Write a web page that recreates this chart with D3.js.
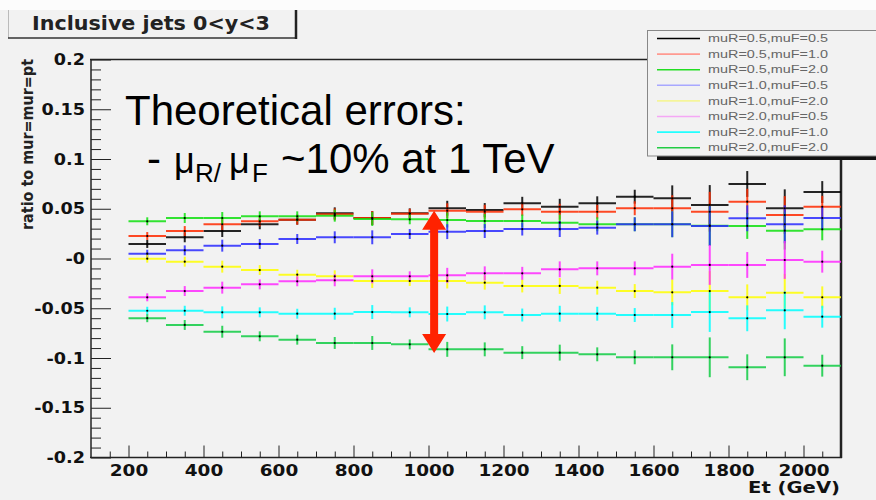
<!DOCTYPE html>
<html><head><meta charset="utf-8">
<script src="https://cdn.jsdelivr.net/npm/d3@7/dist/d3.min.js"></script>
<style>body{margin:0;background:#f2f2f2;} svg{display:block}</style>
</head><body>
<svg id="c" width="876" height="500"></svg>
<script>
// ---------------- data ----------------
const binCenters = [250,350,450,550,650,750,850,950,1050,1150,1250,1350,1450,1550,1650,1750,1850,1950,2050];
const binHalfWidth = 50;
const xTickValues = [200,400,600,800,1000,1200,1400,1600,1800,2000];
const xTickLabels = ["200","400","600","800","1000","1200","1400","1600","1800","2000"];
const yTickValues = [-0.2,-0.15,-0.1,-0.05,0,0.05,0.1,0.15,0.2];
const yTickLabels = ["-0.2","-0.15","-0.1","-0.05","-0","0.05","0.1","0.15","0.2"];
const seriesNames = ["muR=0.5,muF=0.5","muR=0.5,muF=1.0","muR=0.5,muF=2.0","muR=1.0,muF=0.5",
                     "muR=1.0,muF=2.0","muR=2.0,muF=0.5","muR=2.0,muF=1.0","muR=2.0,muF=2.0"];
const r05_05 = [0.0146,0.0213,0.0276,0.0344,0.0390,0.0454,0.0407,0.0454,0.0505,0.0487,0.0555,0.0520,0.0555,0.0621,0.0605,0.0538,0.0749,0.0505,0.0668];
const r05_10 = [0.0226,0.0276,0.0344,0.0374,0.0390,0.0444,0.0407,0.0450,0.0480,0.0470,0.0494,0.0470,0.0470,0.0505,0.0505,0.0470,0.0571,0.0437,0.0520];
const r05_20 = [0.0374,0.0407,0.0407,0.0424,0.0424,0.0430,0.0397,0.0394,0.0387,0.0377,0.0377,0.0360,0.0344,0.0344,0.0344,0.0330,0.0327,0.0280,0.0293];
const r10_05 = [0.0048,0.0082,0.0129,0.0146,0.0196,0.0213,0.0213,0.0246,0.0270,0.0276,0.0296,0.0296,0.0310,0.0344,0.0344,0.0327,0.0404,0.0344,0.0407];
const r10_20 = [-0.0002,-0.0032,-0.0082,-0.0116,-0.0163,-0.0179,-0.0226,-0.0226,-0.0226,-0.0243,-0.0276,-0.0276,-0.0293,-0.0327,-0.0340,-0.0327,-0.0390,-0.0344,-0.0390];
const r20_05 = [-0.0390,-0.0327,-0.0293,-0.0260,-0.0229,-0.0219,-0.0179,-0.0179,-0.0169,-0.0149,-0.0149,-0.0109,-0.0099,-0.0099,-0.0082,-0.0065,-0.0065,-0.0015,-0.0032];
const r20_10 = [-0.0525,-0.0525,-0.0541,-0.0541,-0.0555,-0.0555,-0.0538,-0.0541,-0.0558,-0.0541,-0.0568,-0.0555,-0.0555,-0.0568,-0.0568,-0.0538,-0.0601,-0.0521,-0.0585];
const r20_20 = [-0.0600,-0.0668,-0.0736,-0.0782,-0.0816,-0.0849,-0.0849,-0.0863,-0.0913,-0.0913,-0.0946,-0.0946,-0.0963,-0.0993,-0.0993,-0.0993,-0.1093,-0.0993,-0.1077];
const binErrors = [0.004,0.005,0.006,0.005,0.005,0.006,0.007,0.005,0.0075,0.007,0.0065,0.008,0.007,0.007,0.013,0.020,0.013,0.019,0.011];
const seriesValues = [r05_05,r05_10,r05_20,r10_05,r10_20,r20_05,r20_10,r20_20];

// ---------------- styles ----------------
const colors = ["#000000","#ff2a00","#11e011","#2a2aff","#ffff00","#ff2aff","#00ffff","#11cc44"];
const legendColors = ["#000000","#ff9a90","#22dd22","#a8a8ff","#f5f59a","#f5a8f5","#22ffff","#22cc44"];

const svg = d3.select('#c');
svg.append('rect').attr('width',876).attr('height',500).attr('fill','#f2f2f2');
svg.append('rect').attr('width',876).attr('height',10).attr('fill','#fcfcfc');

const x = d3.scaleLinear().domain([100,2100]).range([91,841]);
const y = d3.scaleLinear().domain([-0.2,0.2]).range([457.5,59.5]);

function stretch(sel, k){
  sel.each(function(){
    const w = this.getComputedTextLength();
    d3.select(this).attr('textLength', w*k).attr('lengthAdjust','spacingAndGlyphs');
  });
}
const axisFont = 'DejaVu Sans, sans-serif';

// minor x ticks
const gxm = svg.append('g').attr('transform','translate(0,457.5)')
  .call(d3.axisBottom(x).tickValues(d3.range(150,2100,50).filter(v=>v%200!==0)).tickSize(-6).tickFormat(''));
gxm.select('.domain').remove();
gxm.selectAll('line').attr('stroke','#222');
// major x ticks
const gx = svg.append('g').attr('transform','translate(0,457.5)')
  .call(d3.axisBottom(x).tickValues(xTickValues).tickSize(-12).tickPadding(7).tickFormat((d,i)=>xTickLabels[i]));
gx.select('.domain').remove();
gx.selectAll('line').attr('stroke','#222');
gx.selectAll('text').attr('font-family',axisFont).attr('font-weight','bold').attr('font-size',16).attr('fill','#111');
stretch(gx.selectAll('text'),1.15);

// minor y ticks
const yMinor = d3.range(-20,21,1).map(v=>v/100).filter(v=>Math.round(v*100)%5!==0);
const gym = svg.append('g').attr('transform','translate(91,0)')
  .call(d3.axisLeft(y).tickValues(yMinor).tickSize(-10).tickFormat(''));
gym.select('.domain').remove();
gym.selectAll('line').attr('stroke','#222');
const gy = svg.append('g').attr('transform','translate(91,0)')
  .call(d3.axisLeft(y).tickValues(yTickValues).tickSize(-20).tickPadding(6).tickFormat((d,i)=>yTickLabels[i]));
gy.select('.domain').remove();
gy.selectAll('line').attr('stroke','#222');
gy.selectAll('text').attr('font-family',axisFont).attr('font-weight','bold').attr('font-size',16).attr('fill','#111');
stretch(gy.selectAll('text'),1.1);

// frame
svg.append('line').attr('x1',91).attr('x2',91).attr('y1',59.5).attr('y2',458).attr('stroke','#222').attr('stroke-width',1.5);
svg.append('line').attr('x1',90).attr('x2',842).attr('y1',457.5).attr('y2',457.5).attr('stroke','#222').attr('stroke-width',1.5);
svg.append('line').attr('x1',90).attr('x2',842).attr('y1',59.5).attr('y2',59.5).attr('stroke','#222').attr('stroke-width',1.5);
svg.append('line').attr('x1',841).attr('x2',841).attr('y1',59).attr('y2',458).attr('stroke','#222').attr('stroke-width',2.5);

// series
const gs = svg.append('g');
seriesValues.forEach((vals,si)=>{
  const g = gs.append('g').attr('stroke',colors[si]).attr('stroke-width',2).attr('stroke-opacity',0.85);
  vals.forEach((v,i)=>{
    const c = binCenters[i], e = binErrors[i];
    g.append('line').attr('x1',x(c-binHalfWidth)).attr('x2',x(c+binHalfWidth)).attr('y1',y(v)).attr('y2',y(v));
    g.append('line').attr('x1',x(c)).attr('x2',x(c)).attr('y1',y(v-e)).attr('y2',y(v+e));
  });
});
seriesValues.forEach((vals,si)=>{
  vals.forEach((v,i)=>{
    gs.append('circle').attr('cx',x(binCenters[i])).attr('cy',y(v)).attr('r',1.1).attr('fill','#000');
  });
});

// arrow
(function(){
  const ax = x(1015), yt = y(0.048), yb = y(-0.095);
  const hw = 12, hl = 19, sw = 4;
  const pts = [[ax,yt],[ax+hw,yt+hl],[ax+sw,yt+hl],[ax+sw,yb-hl],[ax+hw,yb-hl],[ax,yb],
               [ax-hw,yb-hl],[ax-sw,yb-hl],[ax-sw,yt+hl],[ax-hw,yt+hl]];
  svg.append('path').attr('d',d3.line()(pts)+'Z').attr('fill','#ff2200');
})();

// big annotation text
const bigFont = 'Liberation Sans, Arial, sans-serif';
svg.append('text').attr('x',125).attr('y',125).attr('font-family',bigFont)
  .attr('font-size',42).attr('fill','#000').text('Theoretical errors:');
const t2 = svg.append('text').attr('y',172.5).attr('font-family',bigFont)
  .attr('font-size',42).attr('fill','#000');
t2.append('tspan').attr('x',147).text('-');
t2.append('tspan').attr('x',174).attr('font-size',36).text('\u03bc');
t2.append('tspan').attr('x',195).attr('y',181.5).attr('font-size',26).text('R/');
t2.append('tspan').attr('x',229).attr('y',172.5).attr('font-size',36).text('\u03bc');
t2.append('tspan').attr('x',252).attr('y',181.5).attr('font-size',26).text('F');
t2.append('tspan').attr('x',281).attr('y',172.5).text('~10% at 1 TeV');

// title box
svg.append('rect').attr('x',8).attr('y',10).attr('width',288).attr('height',28).attr('fill','#f2f2f2');
svg.append('line').attr('x1',8.5).attr('x2',8.5).attr('y1',10).attr('y2',38).attr('stroke','#bbb').attr('stroke-width',1);
svg.append('line').attr('x1',8).attr('x2',297).attr('y1',38).attr('y2',38).attr('stroke','#333').attr('stroke-width',1.5);
svg.append('line').attr('x1',296).attr('x2',296).attr('y1',10).attr('y2',39).attr('stroke','#222').attr('stroke-width',2.5);
svg.append('text').attr('x',32).attr('y',29.5).attr('font-family',axisFont).attr('font-weight','bold')
  .attr('font-size',19).attr('fill','#222').attr('textLength',238).attr('lengthAdjust','spacingAndGlyphs')
  .text('Inclusive jets 0<y<3');

// axis titles
svg.append('text').attr('x',840).attr('y',493).attr('text-anchor','end').attr('font-family',axisFont)
  .attr('font-weight','bold').attr('font-size',15).attr('fill','#111')
  .attr('textLength',92).attr('lengthAdjust','spacingAndGlyphs').text('Et (GeV)');
svg.append('text').attr('transform','translate(33,59) rotate(-90)').attr('text-anchor','end')
  .attr('font-family',axisFont).attr('font-weight','bold').attr('font-size',15).attr('fill','#222')
  .attr('textLength',171).attr('lengthAdjust','spacingAndGlyphs').text('ratio to mur=mur=pt');

// legend
const lg = svg.append('g');
lg.append('rect').attr('x',657).attr('y',155).attr('width',230).attr('height',5).attr('fill','#111');
lg.append('rect').attr('x',647.5).attr('y',30.5).attr('width',240).attr('height',125.5)
  .attr('fill','#f2f2f2').attr('stroke','#888').attr('stroke-width',1);
seriesNames.forEach((n,i)=>{
  const cy = 38.5 + i*15.6;
  lg.append('line').attr('x1',657).attr('x2',700).attr('y1',cy).attr('y2',cy)
    .attr('stroke',legendColors[i]).attr('stroke-width',1.6);
  lg.append('text').attr('x',708).attr('y',cy+3.6).attr('font-family',bigFont)
    .attr('font-size',10).attr('fill','#666').attr('textLength',120).attr('lengthAdjust','spacingAndGlyphs').text(n);
});
</script>
</body></html>
